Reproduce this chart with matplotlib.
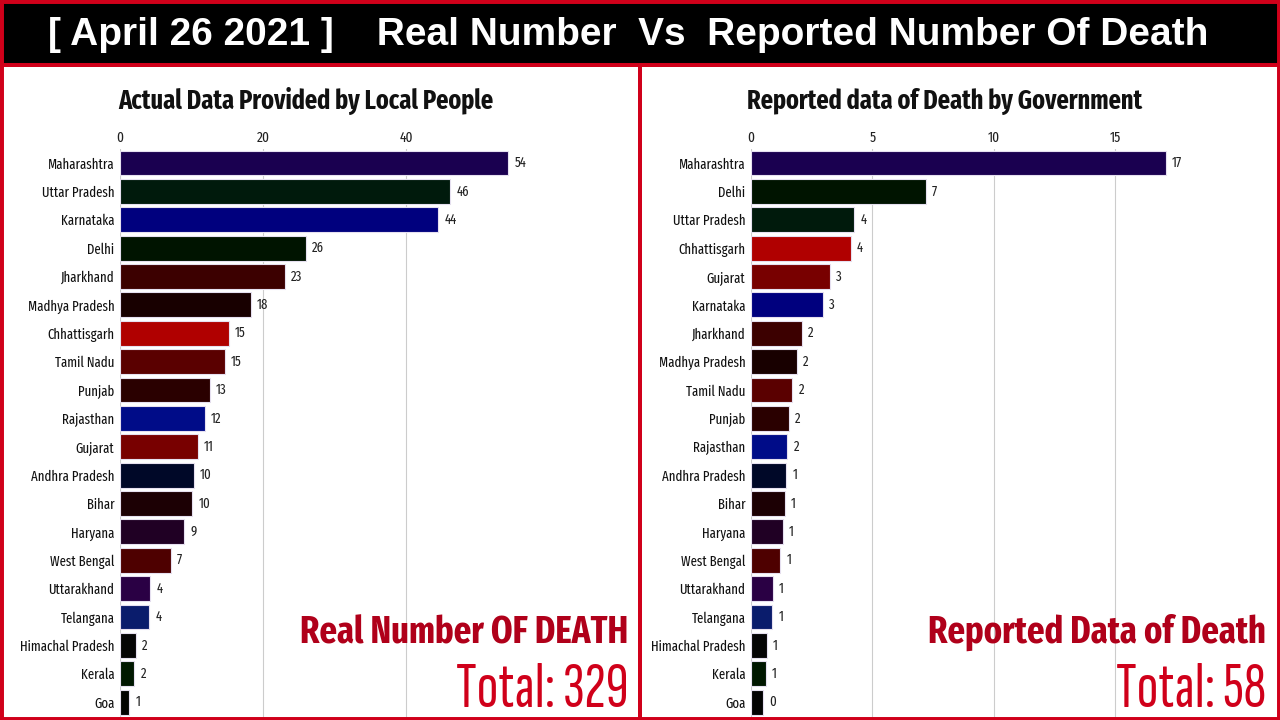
import numpy as np
import matplotlib.pyplot as plt
from matplotlib.patches import Rectangle

states_real = ['Maharashtra', 'Uttar Pradesh', 'Karnataka', 'Delhi', 'Jharkhand',
               'Madhya Pradesh', 'Chhattisgarh', 'Tamil Nadu', 'Punjab', 'Rajasthan',
               'Gujarat', 'Andhra Pradesh', 'Bihar', 'Haryana', 'West Bengal',
               'Uttarakhand', 'Telangana', 'Himachal Pradesh', 'Kerala', 'Goa']
real_values = [54.3, 46.2, 44.5, 26.0, 23.1, 18.3, 15.2, 14.7, 12.6, 11.9,
               10.9, 10.3, 10.1, 9.0, 7.1, 4.2, 4.1, 2.2, 2.0, 1.3]
real_labels = [54, 46, 44, 26, 23, 18, 15, 15, 13, 12, 11, 10, 10, 9, 7, 4, 4, 2, 2, 1]

states_rep = ['Maharashtra', 'Delhi', 'Uttar Pradesh', 'Chhattisgarh', 'Gujarat',
              'Karnataka', 'Jharkhand', 'Madhya Pradesh', 'Tamil Nadu', 'Punjab',
              'Rajasthan', 'Andhra Pradesh', 'Bihar', 'Haryana', 'West Bengal',
              'Uttarakhand', 'Telangana', 'Himachal Pradesh', 'Kerala', 'Goa']
rep_values = [17.1, 7.2, 4.25, 4.1, 3.25, 2.95, 2.1, 1.9, 1.7, 1.55,
              1.5, 1.45, 1.4, 1.3, 1.2, 0.9, 0.87, 0.65, 0.6, 0.5]
rep_labels = [17, 7, 4, 4, 3, 3, 2, 2, 2, 2, 2, 1, 1, 1, 1, 1, 1, 1, 1, 0]

real_total = 329
rep_total = 58

state_colors = {
    'Maharashtra': '#1a0050', 'Uttar Pradesh': '#001a0c', 'Karnataka': '#00007e',
    'Delhi': '#001400', 'Jharkhand': '#3c0000', 'Madhya Pradesh': '#180000',
    'Chhattisgarh': '#b00000', 'Tamil Nadu': '#5a0000', 'Punjab': '#2a0000',
    'Rajasthan': '#000c88', 'Gujarat': '#780000', 'Andhra Pradesh': '#000828',
    'Bihar': '#1c0004', 'Haryana': '#200024', 'West Bengal': '#4e0000',
    'Uttarakhand': '#2a0044', 'Telangana': '#0a1c6c', 'Himachal Pradesh': '#050505',
    'Kerala': '#001800', 'Goa': '#030303',
}

NARROW = ['Fira Sans Extra Condensed', 'DejaVu Sans']
XNARROW = ['Sofia Sans Extra Condensed', 'Fira Sans Extra Condensed', 'DejaVu Sans']
RED = '#d0001a'

fig = plt.figure(figsize=(12.8, 7.2), dpi=100)
fig.patch.set_facecolor('white')

# header band and borders
fig.add_artist(Rectangle((0, 1 - 63 / 720), 1, 63 / 720, transform=fig.transFigure,
                         facecolor='black', edgecolor='none', zorder=0))
fig.add_artist(Rectangle((0, 1 - 67 / 720), 1, 4 / 720, transform=fig.transFigure,
                         facecolor=RED, edgecolor='none', zorder=5))
fig.add_artist(Rectangle((638 / 1280, 0), 4 / 1280, 1 - 63 / 720, transform=fig.transFigure,
                         facecolor=RED, edgecolor='none', zorder=5))
fig.add_artist(Rectangle((0, 0), 1, 1, transform=fig.transFigure, fill=False,
                         edgecolor=RED, linewidth=5, zorder=6))

fig.text(628 / 1280, 1 - 35 / 720, '[ April 26 2021 ]    Real Number  Vs  Reported Number Of Death',
         ha='center', va='center', color='white', fontsize=28, fontweight='bold',
         family=['Liberation Sans', 'DejaVu Sans'])


def race_panel(left, xmax, states, values, labels, ticks, title, title_x, big, total, right_edge):
    ax = fig.add_axes([left / 1280, 0, (right_edge - left) / 1280, 1 - 148.8 / 720])
    y = np.arange(len(states))
    ax.barh(y, values, height=0.88, color=[state_colors[s] for s in states],
            edgecolor='#e6e0f0', linewidth=0.8, zorder=3)
    for yi, v, lab in zip(y, values, labels):
        ax.text(v + xmax * 0.012, yi, str(lab), va='center', ha='left', fontsize=10,
                family=NARROW, color='#222222')
    ax.set_ylim(19.63, -0.5)
    ax.set_xlim(0, xmax)
    ax.set_yticks(y)
    ax.set_yticklabels(states, family=NARROW, fontsize=10, color='#111111')
    ax.set_xticks(ticks)
    ax.set_xticklabels([str(t) for t in ticks], family=NARROW, fontsize=10.5)
    ax.xaxis.tick_top()
    ax.tick_params(length=0, pad=4)
    ax.tick_params(axis='x', pad=3, colors='#222222')
    ax.grid(axis='x', color='#cccccc', linewidth=0.8, zorder=0)
    for s in ax.spines.values():
        s.set_visible(False)
    ax.set_facecolor('none')
    fig.text(title_x / 1280, 1 - 101 / 720, title, ha='center', va='center', fontsize=19,
             fontweight='bold', family=NARROW, color='#111111')
    fig.text((right_edge - 2) / 1280, 1 - 643 / 720, big, ha='right', va='baseline',
             fontsize=27, fontweight='bold', family=NARROW, color='#b0001a')
    fig.text((right_edge - 2) / 1280, 1 - 707 / 720, 'Total: ' + str(total), ha='right',
             va='baseline', fontsize=46, family=XNARROW, color=RED)


race_panel(120, 71.3, states_real, real_values, real_labels, [0, 20, 40],
           'Actual Data Provided by Local People', 306, 'Real Number OF DEATH', real_total, 630)
race_panel(751, 21.3, states_rep, rep_values, rep_labels, [0, 5, 10, 15],
           'Reported data of Death by Government', 945, 'Reported Data of Death', rep_total, 1268)

fig.savefig('out.png', dpi=100)
